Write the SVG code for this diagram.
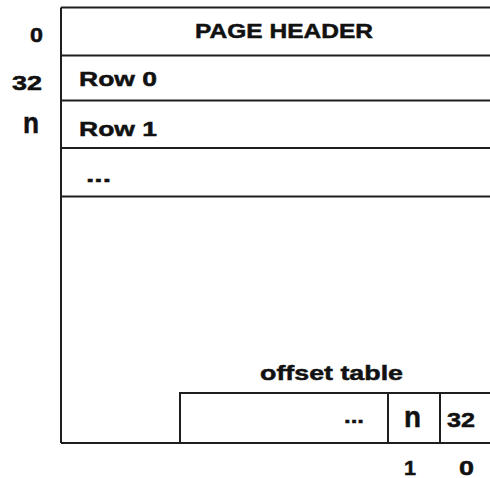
<svg xmlns="http://www.w3.org/2000/svg" width="490" height="478" viewBox="0 0 490 478">
  <style>
    .ln { stroke: #1e1e1e; stroke-width: 2; fill: none; }
    .t { font-family: "Liberation Sans", Arial, sans-serif; font-weight: bold; font-size: 21px; fill: #111; stroke: #111; stroke-width: 0.5; }
    .big { font-size: 29px; }
    .end { text-anchor: end; }
  </style>
  <rect width="490" height="478" fill="#fff"/>

  <!-- page frame and row separators -->
  <g id="connectors">
    <path class="ln" d="M61 7.5V443M61 7.5H490M61 55.5H490M61 100.5H490M61 148H490M61 196.5H490M61 443H490"/>
  </g>

  <g id="offset-labels">
    <text class="t end" x="43" y="42" textLength="13" lengthAdjust="spacingAndGlyphs">0</text>
    <text class="t end" x="42" y="90" textLength="30" lengthAdjust="spacingAndGlyphs">32</text>
    <text class="t big end" x="39" y="133" textLength="16" lengthAdjust="spacingAndGlyphs">n</text>
  </g>

  <g id="page-header">
    <text class="t" x="195" y="38" textLength="178" lengthAdjust="spacingAndGlyphs">PAGE HEADER</text>
  </g>
  <g id="row-0">
    <text class="t" x="79" y="86" textLength="78" lengthAdjust="spacingAndGlyphs">Row 0</text>
  </g>
  <g id="row-1">
    <text class="t" x="79" y="136" textLength="78" lengthAdjust="spacingAndGlyphs">Row 1</text>
  </g>
  <g id="row-more">
    <text class="t" x="86" y="182" textLength="25" lengthAdjust="spacingAndGlyphs">...</text>
  </g>

  <g id="offset-table">
    <text class="t" x="260" y="380" textLength="143" lengthAdjust="spacingAndGlyphs">offset table</text>
    <path class="ln" d="M180 443V393H490M388 393V443M440 393V443"/>
    <text class="t" x="344" y="423" textLength="20" lengthAdjust="spacingAndGlyphs">...</text>
    <text class="t big" x="404" y="427" textLength="17" lengthAdjust="spacingAndGlyphs">n</text>
    <text class="t" x="447" y="427" textLength="28" lengthAdjust="spacingAndGlyphs">32</text>
    <text class="t" x="404" y="475" textLength="12" lengthAdjust="spacingAndGlyphs">1</text>
    <text class="t" x="459" y="475" textLength="15" lengthAdjust="spacingAndGlyphs">0</text>
  </g>
</svg>
